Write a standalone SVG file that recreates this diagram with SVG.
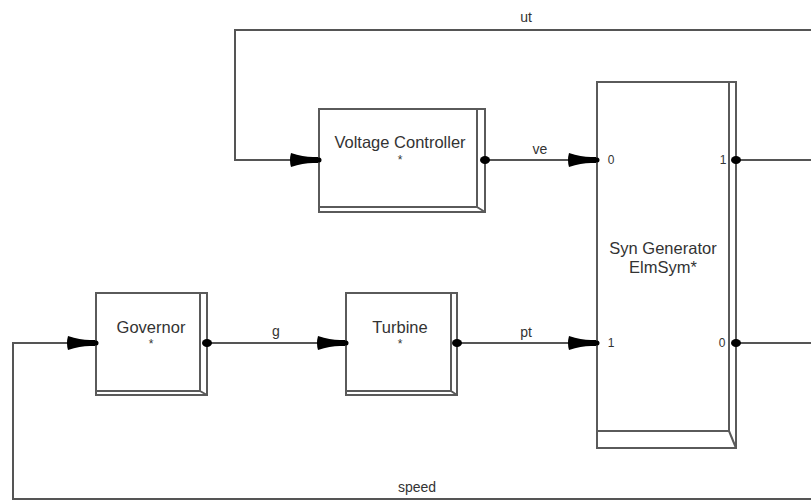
<svg xmlns="http://www.w3.org/2000/svg" width="811" height="501" viewBox="0 0 811 501">
<style>
.box{fill:#fff;stroke:#5a5a5a;stroke-width:2}
.edge{fill:none;stroke:#5a5a5a;stroke-width:2}
.wire{fill:none;stroke:#555;stroke-width:2}
.t{font-family:"Liberation Sans",Arial,sans-serif;fill:#333;text-anchor:middle}
.title{font-size:16.5px}
.lbl{font-size:14px}
.pl{font-size:12px}
.ah{fill:#000}
</style>
<defs>
<path id="arr" d="M-28,-7 Q-16,-3 -6,-3 L0,-3 L0,3 L-6,3 Q-16,3 -28,7 Q-30,0 -28,-7 Z"/>
<ellipse id="pout" rx="5" ry="4"/>
</defs>
<rect width="811" height="501" fill="#fff"/>
<g id="connectors">
<path class="wire" d="M736,160 H815 V30 H235 V160 H319"/>
<path class="wire" d="M736,343 H815 V499 H13 V343 H96"/>
<path class="wire" d="M485,160 H597"/>
<path class="wire" d="M207,343 H346"/>
<path class="wire" d="M457,343 H597"/>
<use href="#arr" class="ah" x="319" y="160"/>
<use href="#arr" class="ah" x="96" y="343"/>
<use href="#arr" class="ah" x="597" y="160"/>
<use href="#arr" class="ah" x="346" y="343"/>
<use href="#arr" class="ah" x="597" y="343"/>
<text class="t lbl" x="526" y="22">ut</text>
<text class="t lbl" x="540" y="154">ve</text>
<text class="t lbl" x="276" y="336">g</text>
<text class="t lbl" x="526" y="337">pt</text>
<text class="t lbl" x="417" y="492">speed</text>
</g>
<g id="voltage-controller">
<rect class="box" x="319" y="109" width="166" height="103"/>
<path class="edge" d="M477,109 V207 H319 M477,207 L485,212"/>
<text class="t title" x="400" y="148">Voltage Controller</text>
<text class="t pl" x="400" y="164">*</text>
<use href="#pout" x="485" y="160"/>
<circle cx="319" cy="160" r="2.5"/>
</g>
<g id="governor">
<rect class="box" x="96" y="293" width="111" height="102"/>
<path class="edge" d="M200,293 V391 H96 M200,391 L207,395"/>
<text class="t title" x="151" y="333">Governor</text>
<text class="t pl" x="151" y="348">*</text>
<use href="#pout" x="207" y="343"/>
<circle cx="96" cy="343" r="2.5"/>
</g>
<g id="turbine">
<rect class="box" x="346" y="293" width="111" height="102"/>
<path class="edge" d="M451,293 V391 H346 M451,391 L457,395"/>
<text class="t title" x="400" y="333">Turbine</text>
<text class="t pl" x="400" y="348">*</text>
<use href="#pout" x="457" y="343"/>
<circle cx="346" cy="343" r="2.5"/>
</g>
<g id="syn-generator">
<rect class="box" x="597" y="82" width="139" height="366"/>
<path class="edge" d="M729,82 V431 H597 M729,431 L736,448"/>
<text class="t title" x="663" y="254">Syn Generator</text>
<text class="t title" x="663" y="273">ElmSym*</text>
<text class="t pl" x="611" y="164">0</text>
<text class="t pl" x="723" y="164">1</text>
<text class="t pl" x="611" y="347">1</text>
<text class="t pl" x="722" y="347">0</text>
<use href="#pout" x="736" y="160"/>
<use href="#pout" x="736" y="343"/>
<circle cx="597" cy="160" r="2.5"/>
<circle cx="597" cy="343" r="2.5"/>
</g>
</svg>
